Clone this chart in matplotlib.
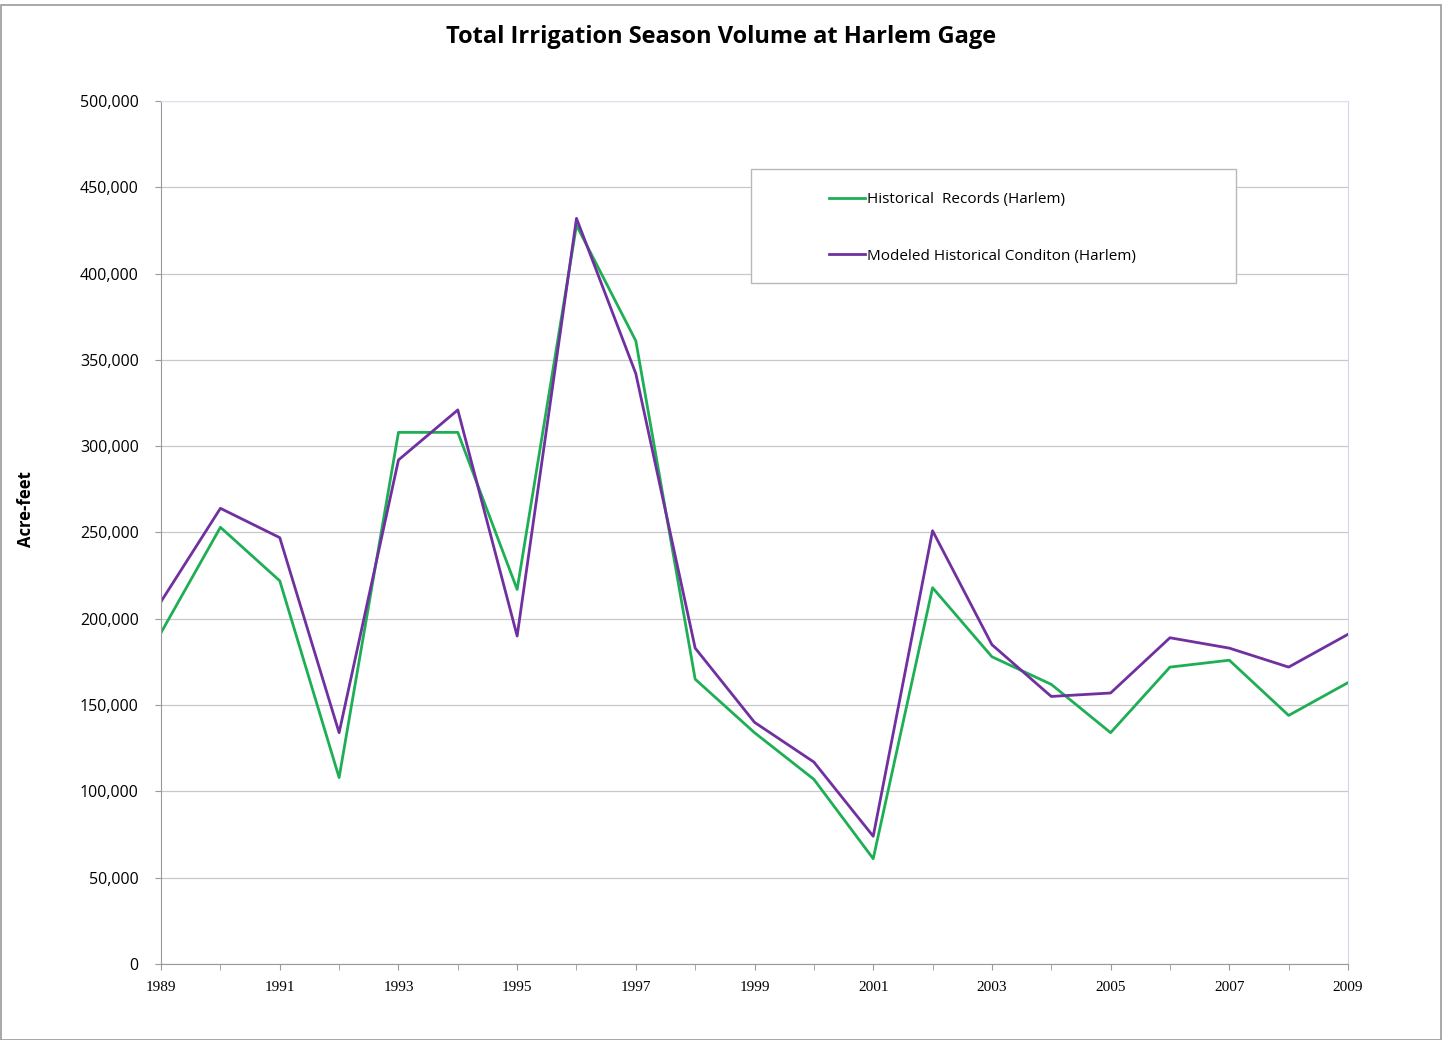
import matplotlib.pyplot as plt
import matplotlib.ticker as mtick
from matplotlib.patches import Rectangle

# ── Data ─────────────────────────────────────────────────────
years = list(range(1989, 2010))
historical = [192000, 253000, 222000, 108000, 308000, 308000, 217000, 428000,
              361000, 165000, 134000, 107000, 61000, 218000, 178000, 162000,
              134000, 172000, 176000, 144000, 163000]
modeled = [210000, 264000, 247000, 134000, 292000, 321000, 190000, 432000,
           342000, 183000, 140000, 117000, 74000, 251000, 185000, 155000,
           157000, 189000, 183000, 172000, 191000]
y_ticks = list(range(0, 500001, 50000))
x_labels = years[::2]

GREEN = '#1EAF55'
PURPLE = '#7030A0'
SANS = ['Open Sans', 'DejaVu Sans']
SERIF = ['Liberation Serif', 'DejaVu Serif']

# ── Plot ─────────────────────────────────────────────────────
fig = plt.figure(figsize=(14.42, 10.40), dpi=100)
fig.patches.append(Rectangle((0.001, 0.0), 0.998, 0.995, transform=fig.transFigure,
                             fill=False, edgecolor='#9a9a9a', lw=1.2))
ax = fig.add_axes([0.1117, 0.0731, 0.8231, 0.8298])

ax.plot(years, historical, color=GREEN, lw=2.0, label='Historical  Records (Harlem)')
ax.plot(years, modeled, color=PURPLE, lw=2.0, label='Modeled Historical Conditon (Harlem)')

ax.set_xlim(1989, 2009)
ax.set_ylim(0, 500000)
ax.set_yticks(y_ticks)
ax.yaxis.set_major_formatter(mtick.FuncFormatter(lambda v, _: f'{v:,.0f}'))
ax.set_xticks(years, minor=True)
ax.set_xticks(x_labels)
ax.set_xticklabels([str(y) for y in x_labels], fontfamily=SERIF, fontsize=11)
for lbl in ax.get_yticklabels():
    lbl.set_fontfamily(SANS)
    lbl.set_fontsize(11.5)
ax.tick_params(axis='both', which='both', direction='out', color='#999999', length=4)
ax.tick_params(axis='y', pad=12)
ax.tick_params(axis='x', which='both', pad=8)

ax.grid(axis='y', color='#c8c8c8', lw=0.9)
ax.set_axisbelow(True)
for side in ['left', 'bottom']:
    ax.spines[side].set_color('#999999')
ax.spines['top'].set_color('#dce3f0')
ax.spines['right'].set_color('#cfd8ea')

ax.set_ylabel('Acre-feet', fontfamily=SANS, fontweight='bold', fontsize=12)
ax.yaxis.set_label_coords(-0.106, 0.527)
fig.suptitle('Total Irrigation Season Volume at Harlem Gage', fontfamily=SANS,
             fontweight='bold', fontsize=17, x=0.5, y=0.976)

# legend box
ax.add_patch(Rectangle((0.497, 0.789), 0.409, 0.132, transform=ax.transAxes,
                       facecolor='white', edgecolor='#b8b8b8', lw=1.0, zorder=3))
leg = ax.legend(loc='upper left', bbox_to_anchor=(0.551, 0.91), frameon=False,
                prop={'family': SANS, 'size': 11}, handlelength=2.4, handletextpad=0.1,
                labelspacing=2.7)
leg.set_zorder(4)

fig.savefig('out.png', dpi=100)
plt.close()
